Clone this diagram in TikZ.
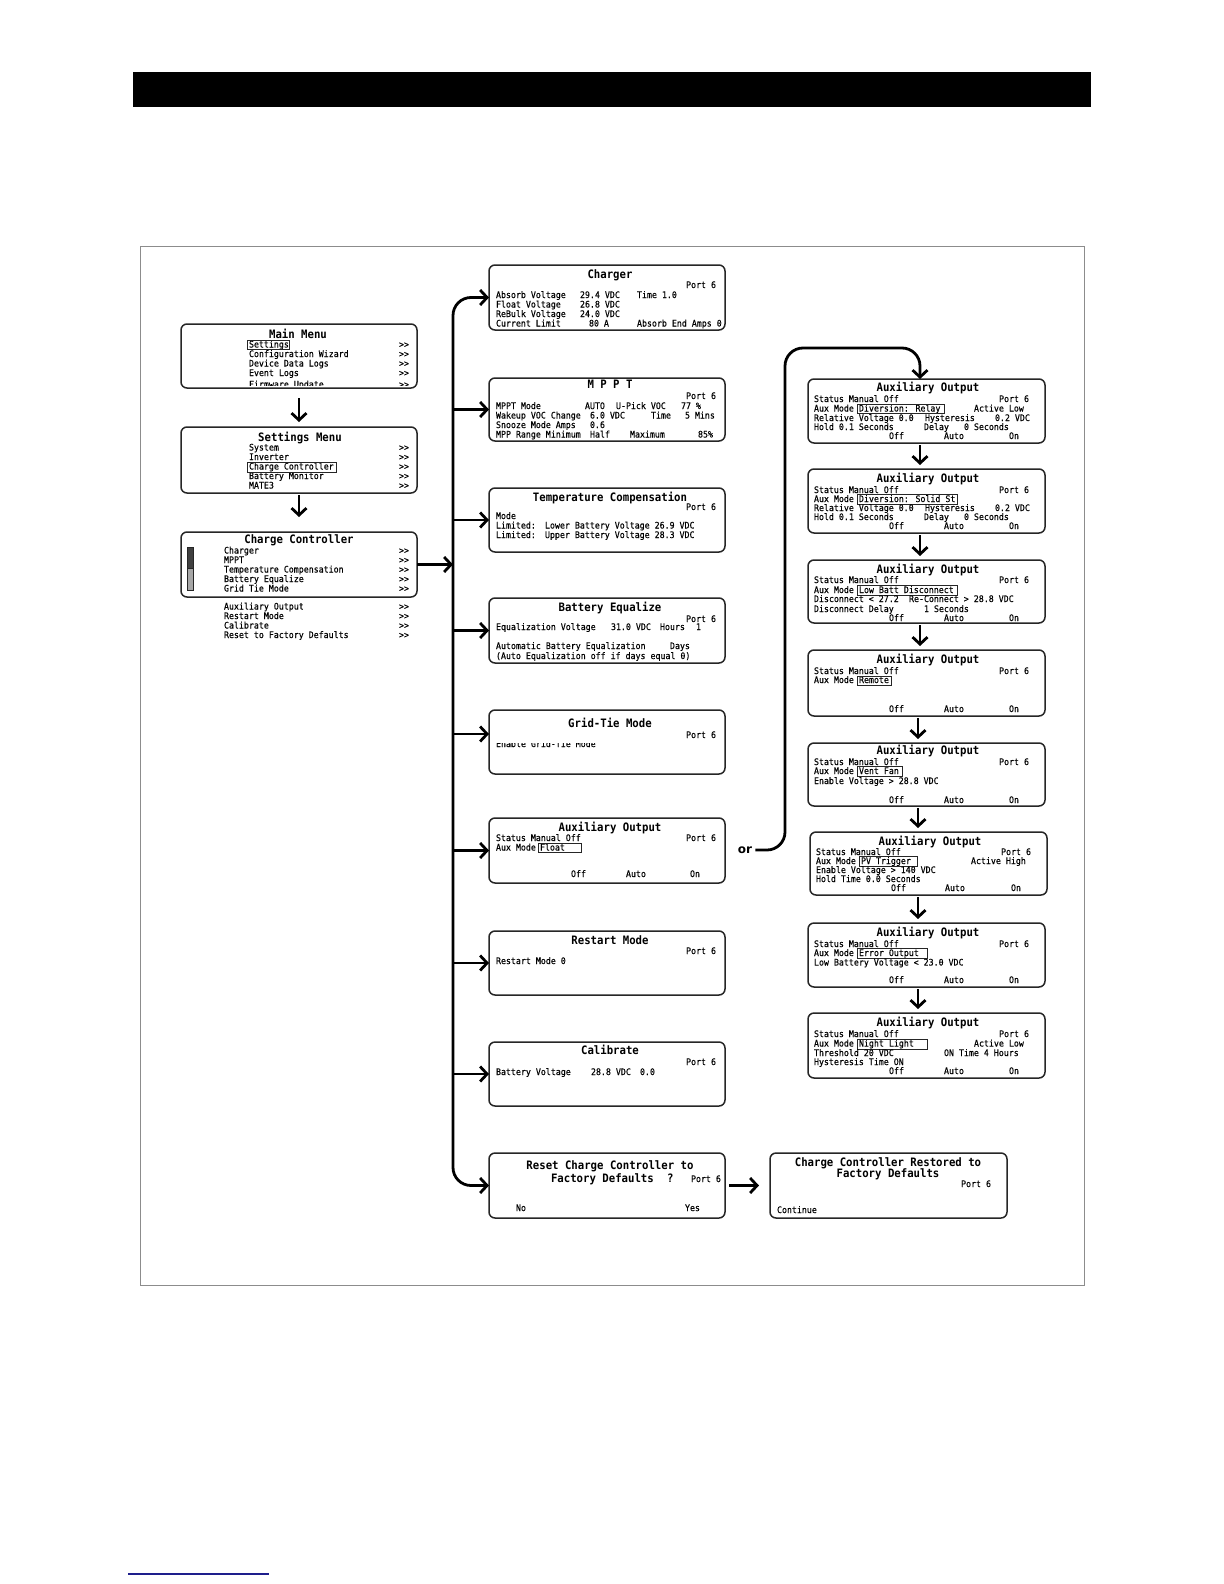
\documentclass[tikz,border=0pt]{standalone}
\usepackage{fontspec}
\usetikzlibrary{arrows.meta,calc}
\newfontfamily\lcd[FakeStretch=0.92,FakeBold=0.25]{DejaVu Sans Mono}
\newfontfamily\lcdtitle[FakeStretch=0.92]{DejaVu Sans Mono Bold}
\newfontfamily\orfont{DejaVu Sans}
\definecolor{navyline}{RGB}{30,30,140}
\newcounter{tn}
\newcommand\lcdT[3]{\stepcounter{tn}\node[txt,anchor=base west] (t\arabic{tn}) at (#1,#2) {#3};}
\newcommand\lcdR[3]{\stepcounter{tn}\node[txt,anchor=base east] (t\arabic{tn}) at (#1,#2) {#3};}
\newcommand\lcdPort[2]{\lcdR{#1}{#2}{Port 6}}
\newcommand\lcdTitle[3]{\stepcounter{tn}\node[ttl,anchor=base] (t\arabic{tn}) at (#1,#2) {#3};}
\newcommand\lcdTitleL[3]{\stepcounter{tn}\node[ttl,anchor=base west] (t\arabic{tn}) at (#1,#2) {#3};}
\newcommand\lcdHl[4]{\draw[hl] (#1,#2) rectangle (#3,#4);}
\newcommand\lcdScr[5]{\node[scr, minimum width={(#4-#2)*0.5pt}, minimum height={(#5-#3)*0.5pt}] (#1) at ({(#2+#4)/2},{(#3+#5)/2}) {};}
\newcommand\lcdOAO[4]{\lcdT{#1}{#4}{Off}\lcdT{#2}{#4}{Auto}\lcdT{#3}{#4}{On}}
\begin{document}
\begin{tikzpicture}[x=0.5pt,y=-0.5pt,
 txt/.style={inner sep=0pt, outer sep=0pt, font=\lcd\fontsize{4.5}{5}\selectfont, text=black},
 ttl/.style={inner sep=0pt, outer sep=0pt, font=\lcdtitle\fontsize{5.8}{6}\selectfont, text=black},
 scr/.style={draw=black!85, line width=0.75pt, rounded corners=3pt, inner sep=0pt, outer sep=0pt},
 hl/.style={draw=black!85, line width=0.45pt},
 arr/.style={line width=1.4pt, -{Straight Barb[length=3.5pt,width=7.5pt]}},
 arrb/.style={line width=1.4pt, {Straight Barb[length=3.5pt,width=7.5pt]}-{Straight Barb[length=3.5pt,width=7.5pt]}},
]
\useasboundingbox (0,0) rectangle (1224,1584);
\fill[white] (0,0) rectangle (1224,1584);
% page decorations
\fill[black] (133,72) rectangle (1091,107);
\draw[black!45, line width=0.5pt] (140,246) rectangle (1084,1285);
\draw[navyline, line width=0.9pt] (128,1574) -- (269,1574);

% ---------------- left column ----------------
\lcdScr{mm}{181}{324}{417}{388}
\lcdTitle{298}{338}{Main Menu}
\lcdT{249}{347.5}{Settings}\lcdT{399}{347.5}{>>}
\lcdT{249}{357}{Configuration Wizard}\lcdT{399}{357}{>>}
\lcdT{249}{366.5}{Device Data Logs}\lcdT{399}{366.5}{>>}
\lcdT{249}{376}{Event Logs}\lcdT{399}{376}{>>}
\begin{scope}
\clip (181,330) rectangle (417,385.5);
\lcdT{249}{387.5}{Firmware Update}\lcdT{399}{387.5}{>>}
\end{scope}
\lcdHl{247}{340}{289}{349.5}

\lcdScr{sm}{181}{427}{417}{493}
\lcdTitle{300}{441}{Settings Menu}
\lcdT{249}{450.5}{System}\lcdT{399}{450.5}{>>}
\lcdT{249}{460}{Inverter}\lcdT{399}{460}{>>}
\lcdT{249}{469.5}{Charge Controller}\lcdT{399}{469.5}{>>}
\lcdT{249}{479}{Battery Monitor}\lcdT{399}{479}{>>}
\lcdT{249}{488.5}{MATE3}\lcdT{399}{488.5}{>>}
\lcdHl{247}{462.5}{336}{472}

\lcdScr{cc}{181}{532}{417}{597}
\lcdTitle{299}{543}{Charge Controller}
\lcdT{224}{553.5}{Charger}\lcdT{399}{553.5}{>>}
\lcdT{224}{563}{MPPT}\lcdT{399}{563}{>>}
\lcdT{224}{572.5}{Temperature Compensation}\lcdT{399}{572.5}{>>}
\lcdT{224}{582}{Battery Equalize}\lcdT{399}{582}{>>}
\lcdT{224}{591.5}{Grid Tie Mode}\lcdT{399}{591.5}{>>}
\lcdT{224}{609.5}{Auxiliary Output}\lcdT{399}{609.5}{>>}
\lcdT{224}{619}{Restart Mode}\lcdT{399}{619}{>>}
\lcdT{224}{628.5}{Calibrate}\lcdT{399}{628.5}{>>}
\lcdT{224}{638}{Reset to Factory Defaults}\lcdT{399}{638}{>>}
\draw[black!85, line width=0.5pt, fill=black!75] (187,547) rectangle (193,568);
\draw[black!85, line width=0.5pt, fill=black!35] (187,568) rectangle (193,590);

% ---------------- middle column ----------------
\lcdScr{chg}{489}{265}{725}{330}
\lcdTitle{610}{278}{Charger}
\lcdPort{716}{288}
\lcdT{496}{298}{Absorb Voltage}\lcdT{580}{298}{29.4 VDC}\lcdT{637}{298}{Time 1.0}
\lcdT{496}{307.5}{Float Voltage}\lcdT{580}{307.5}{26.8 VDC}
\lcdT{496}{317}{ReBulk Voltage}\lcdT{580}{317}{24.0 VDC}
\lcdT{496}{326.5}{Current Limit}\lcdT{589}{326.5}{80 A}\lcdT{637}{326.5}{Absorb End Amps 0}

\lcdScr{mppt}{489}{378}{725}{441}
\lcdTitle{610}{388}{M P P T}
\lcdPort{716}{399}
\lcdT{496}{409}{MPPT Mode}\lcdT{585}{409}{AUTO}\lcdT{616}{409}{U-Pick VOC}\lcdT{681}{409}{77 \%}
\lcdT{496}{418.5}{Wakeup VOC Change}\lcdT{590}{418.5}{6.0 VDC}\lcdT{651}{418.5}{Time}\lcdT{685}{418.5}{5 Mins}
\lcdT{496}{428}{Snooze Mode Amps}\lcdT{590}{428}{0.6}
\lcdT{496}{437.5}{MPP Range Minimum}\lcdT{590}{437.5}{Half}\lcdT{630}{437.5}{Maximum}\lcdT{698}{437.5}{85\%}

\lcdScr{tc}{489}{488}{725}{552}
\lcdTitle{610}{501}{Temperature Compensation}
\lcdPort{716}{510}
\lcdT{496}{519}{Mode}
\lcdT{496}{528.5}{Limited:}\lcdT{545}{528.5}{Lower Battery Voltage 26.9 VDC}
\lcdT{496}{538}{Limited:}\lcdT{545}{538}{Upper Battery Voltage 28.3 VDC}

\lcdScr{beq}{489}{598}{725}{663}
\lcdTitle{610}{611}{Battery Equalize}
\lcdPort{716}{622}
\lcdT{496}{630}{Equalization Voltage}\lcdT{611}{630}{31.0 VDC}\lcdT{660}{630}{Hours}\lcdT{696}{630}{1}
\lcdT{496}{649}{Automatic Battery Equalization}\lcdT{670}{649}{Days}
\lcdT{496}{659}{(Auto Equalization off if days equal 0)}

\lcdScr{gtm}{489}{710}{725}{774}
\lcdTitle{610}{727}{Grid-Tie Mode}
\lcdPort{716}{738}
\begin{scope}
\clip (489,743) rectangle (725,760);
\lcdT{496}{747}{Enable Grid-Tie Mode}
\end{scope}

\lcdScr{aux}{489}{818}{725}{883}
\lcdTitle{610}{831}{Auxiliary Output}
\lcdT{496}{841}{Status Manual Off}\lcdPort{716}{841}
\lcdT{496}{850.5}{Aux Mode}\lcdT{540}{850.5}{Float}
\lcdHl{538}{843}{581}{852.5}
\lcdOAO{571}{626}{690}{877}

\lcdScr{rst}{489}{931}{725}{995}
\lcdTitle{610}{944}{Restart Mode}
\lcdPort{716}{954}
\lcdT{496}{964}{Restart Mode 0}

\lcdScr{cal}{489}{1042}{725}{1106}
\lcdTitle{610}{1054}{Calibrate}
\lcdPort{716}{1065}
\lcdT{496}{1075}{Battery Voltage}\lcdT{591}{1075}{28.8 VDC}\lcdT{640}{1075}{0.0}

\lcdScr{rcc}{489}{1153}{725}{1218}
\lcdTitle{610}{1169}{Reset Charge Controller to}
\lcdTitleL{551}{1182}{Factory Defaults}\lcdTitleL{667}{1182}{?}
\lcdT{691}{1182}{Port 6}
\lcdT{516}{1211}{No}\lcdT{685}{1211}{Yes}

\lcdScr{rest}{770}{1153}{1007}{1218}
\lcdTitle{888}{1166}{Charge Controller Restored to}
\lcdTitle{888}{1177}{Factory Defaults}
\lcdPort{991}{1187}
\lcdT{777}{1213}{Continue}

% ---------------- right column ----------------
\lcdScr{a1}{808}{379}{1045}{443}
\lcdTitle{928}{391}{Auxiliary Output}
\lcdT{814}{402}{Status Manual Off}\lcdPort{1029}{402}
\lcdT{814}{411.5}{Aux Mode}\lcdT{859}{411.5}{Diversion: Relay}\lcdT{974}{411.5}{Active Low}
\lcdHl{857}{404}{944}{413.5}
\lcdT{814}{421}{Relative Voltage 0.0}\lcdT{925}{421}{Hysteresis}\lcdT{995}{421}{0.2 VDC}
\lcdT{814}{430}{Hold 0.1 Seconds}\lcdT{924}{430}{Delay}\lcdT{964}{430}{0 Seconds}
\lcdOAO{889}{944}{1009}{439}

\lcdScr{a2}{808}{469}{1045}{533}
\lcdTitle{928}{482}{Auxiliary Output}
\lcdT{814}{493}{Status Manual Off}\lcdPort{1029}{493}
\lcdT{814}{502}{Aux Mode}\lcdT{859}{502}{Diversion: Solid St}
\lcdHl{857}{494.5}{957}{504}
\lcdT{814}{511}{Relative Voltage 0.0}\lcdT{925}{511}{Hysteresis}\lcdT{995}{511}{0.2 VDC}
\lcdT{814}{520}{Hold 0.1 Seconds}\lcdT{924}{520}{Delay}\lcdT{964}{520}{0 Seconds}
\lcdOAO{889}{944}{1009}{529}

\lcdScr{a3}{808}{560}{1045}{623}
\lcdTitle{928}{573}{Auxiliary Output}
\lcdT{814}{583}{Status Manual Off}\lcdPort{1029}{583}
\lcdT{814}{593}{Aux Mode}\lcdT{859}{593}{Low Batt Disconnect}
\lcdHl{857}{585.5}{957}{595}
\lcdT{814}{602}{Disconnect < 27.2}\lcdT{909}{602}{Re-Connect > 28.8 VDC}
\lcdT{814}{612}{Disconnect Delay}\lcdT{924}{612}{1 Seconds}
\lcdOAO{889}{944}{1009}{621}

\lcdScr{a4}{808}{650}{1045}{716}
\lcdTitle{928}{663}{Auxiliary Output}
\lcdT{814}{674}{Status Manual Off}\lcdPort{1029}{674}
\lcdT{814}{683}{Aux Mode}\lcdT{859}{683}{Remote}
\lcdHl{857}{676}{891}{685.5}
\lcdOAO{889}{944}{1009}{712}

\lcdScr{a5}{808}{743}{1045}{806}
\lcdTitle{928}{754}{Auxiliary Output}
\lcdT{814}{765}{Status Manual Off}\lcdPort{1029}{765}
\lcdT{814}{774}{Aux Mode}\lcdT{859}{774}{Vent Fan}
\lcdHl{857}{766.5}{902}{776}
\lcdT{814}{784}{Enable Voltage > 28.8 VDC}
\lcdOAO{889}{944}{1009}{803}

\lcdScr{a6}{810}{832}{1047}{895}
\lcdTitle{930}{845}{Auxiliary Output}
\lcdT{816}{855}{Status Manual Off}\lcdPort{1031}{855}
\lcdT{816}{864}{Aux Mode}\lcdT{861}{864}{PV Trigger}\lcdT{971}{864}{Active High}
\lcdHl{859}{856.5}{917}{866}
\lcdT{816}{873}{Enable Voltage > 140 VDC}
\lcdT{816}{882}{Hold Time 0.0 Seconds}
\lcdOAO{891}{945}{1011}{891}

\lcdScr{a7}{808}{923}{1045}{987}
\lcdTitle{928}{936}{Auxiliary Output}
\lcdT{814}{947}{Status Manual Off}\lcdPort{1029}{947}
\lcdT{814}{956}{Aux Mode}\lcdT{859}{956}{Error Output}
\lcdHl{857}{948.5}{927}{958}
\lcdT{814}{965.5}{Low Battery Voltage < 23.0 VDC}
\lcdOAO{889}{944}{1009}{983}

\lcdScr{a8}{808}{1013}{1045}{1078}
\lcdTitle{928}{1026}{Auxiliary Output}
\lcdT{814}{1037}{Status Manual Off}\lcdPort{1029}{1037}
\lcdT{814}{1046.5}{Aux Mode}\lcdT{859}{1046.5}{Night Light}\lcdT{974}{1046.5}{Active Low}
\lcdHl{857}{1039}{927}{1049}
\lcdT{814}{1056}{Threshold 20 VDC}\lcdT{944}{1056}{ON Time 4 Hours}
\lcdT{814}{1065}{Hysteresis Time ON}
\lcdOAO{889}{944}{1009}{1074}

% ---------------- connectors ----------------
\coordinate (tk) at (453,0);
\coordinate (ax) at (920,0);
\coordinate (bx) at (918,0);
\draw[arr] ([yshift=-5pt]mm.south) -- ([yshift=2.5pt]sm.north);
\draw[arr] ([yshift=-1pt]sm.south) -- ([yshift=7.5pt]cc.north);
\draw[arr] (cc.east) -- (cc.east -| tk);
\draw[arrb, rounded corners=9pt] (chg.west) -- (chg.west -| tk) -- (rcc.west -| tk) -- (rcc.west);
\foreach \b in {mppt,tc,beq,aux,rst,cal}{\draw[arr] (\b.west -| tk) -- (\b.west);}
\coordinate (gy) at ([yshift=4pt]gtm.west);
\draw[arr] (gy -| tk) -- (gy);
\node[inner sep=0pt, font=\orfont\bfseries\fontsize{6}{7}\selectfont] (orl) at (745,850) {or};
\draw[arr, rounded corners=9pt] ([xshift=1.5pt]orl.east) -| (785,348) -| (a1.north -| ax);
\draw[arr, shorten <=1pt, shorten >=2pt] (a1.south -| ax) -- (a2.north -| ax);
\draw[arr, shorten <=1pt, shorten >=2pt] (a2.south -| ax) -- (a3.north -| ax);
\draw[arr, shorten <=1pt, shorten >=2pt] (a3.south -| ax) -- (a4.north -| ax);
\draw[arr, shorten <=1pt, shorten >=2pt] (a4.south -| bx) -- (a5.north -| bx);
\draw[arr, shorten <=1pt, shorten >=2pt] (a5.south -| bx) -- (a6.north -| bx);
\draw[arr, shorten <=1pt, shorten >=2pt] (a6.south -| bx) -- (a7.north -| bx);
\draw[arr, shorten <=1pt, shorten >=2pt] (a7.south -| bx) -- (a8.north -| bx);
\draw[arr, shorten <=2pt, shorten >=5.5pt] (rcc.east) -- (rest.west);
\end{tikzpicture}
\end{document}
